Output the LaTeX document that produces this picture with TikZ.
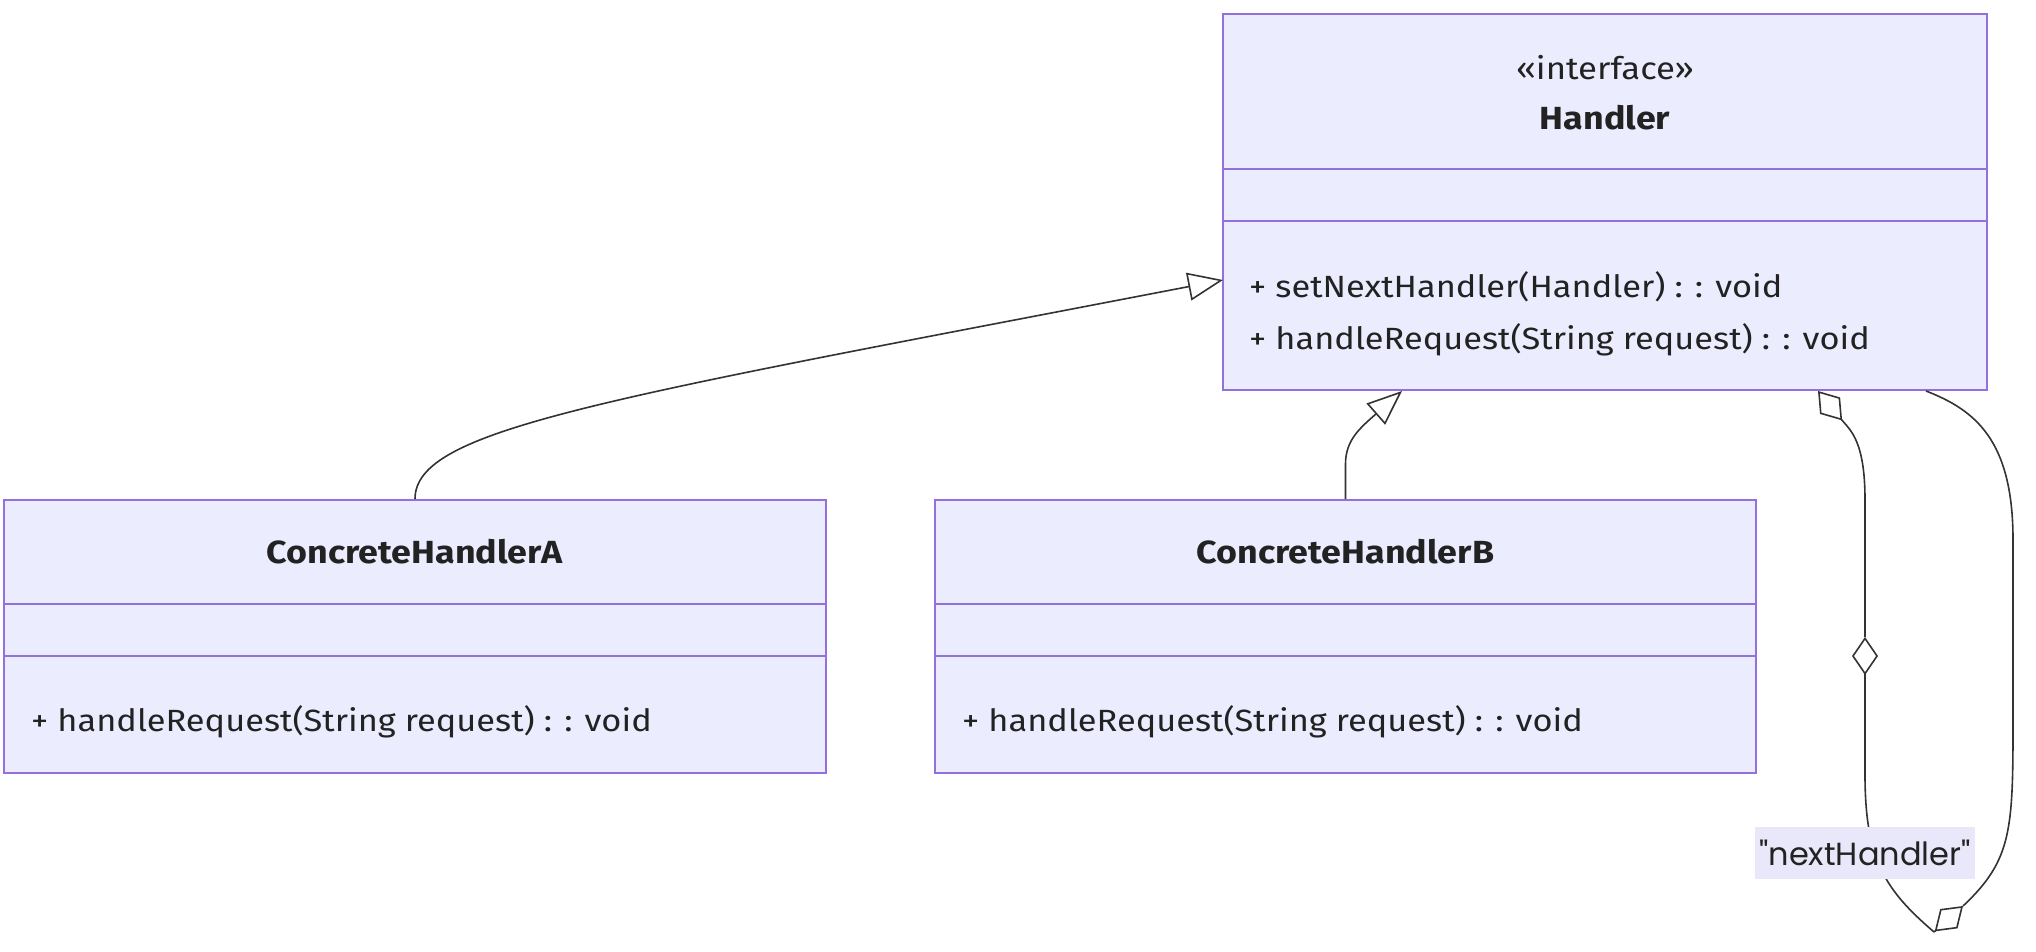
\documentclass[tikz,border=0pt]{standalone}
\usepackage{fontspec}
\setmainfont[FakeStretch=1.12]{Fira Sans}
\newfontfamily\labelfont{Poppins}
\usetikzlibrary{arrows.meta,calc}
\definecolor{classfill}{HTML}{ECECFF}
\definecolor{classline}{HTML}{9370DB}
\definecolor{edgeline}{HTML}{333333}
\definecolor{txt}{HTML}{222222}
\definecolor{labelbg}{HTML}{E8E8FA}
\begin{document}
\begin{tikzpicture}[x=1pt,y=-1pt,
  classbox/.style={draw=classline, fill=classfill, line width=2pt, inner sep=0pt},
  divider/.style={draw=classline, line width=2pt},
  titletext/.style={font=\fontsize{32}{38}\selectfont\bfseries, text=txt, inner sep=0pt},
  stereotext/.style={font=\fontsize{31}{36}\selectfont, text=txt, inner sep=0pt},
  membertext/.style={font=\fontsize{30.7}{36}\selectfont, text=txt, anchor=west, inner sep=0pt},
  edge/.style={draw=edgeline, line width=1.6pt},
  inherit/.style={edge, -{Triangle[open, length=35pt, width=28pt, fill=white]}},
  dmd/.tip={Diamond[open, length=38pt, width=26pt, fill=white]},
  rolelabel/.style={fill=labelbg, text=txt, font=\labelfont\fontsize{32}{36}\selectfont, inner xsep=4pt, minimum height=52pt}
]
\useasboundingbox (0,0) rectangle (2036,952);

% Handler interface
\node[classbox, minimum width=764pt, minimum height=376pt] (handler) at (1605,202) {};
\draw[divider] (1223,169) -- (1987,169);
\draw[divider] (1223,221) -- (1987,221);
\node[stereotext] (handlerStereo) at (1605,68) {«interface»};
\node[titletext] (handlerName) at (1605,118) {Handler};
\node[membertext] (handlerM1) at (1249,287) {+ setNextHandler(Handler) : : void};
\node[membertext] (handlerM2) at (1249,340) {+ handleRequest(String request) : : void};

% ConcreteHandlerA
\node[classbox, minimum width=822pt, minimum height=273pt] (chA) at (415,636.5) {};
\draw[divider] (4,604) -- (826,604);
\draw[divider] (4,656) -- (826,656);
\node[titletext] (chAName) at (415,552) {ConcreteHandlerA};
\node[membertext] (chAM1) at (31,722) {+ handleRequest(String request) : : void};

% ConcreteHandlerB
\node[classbox, minimum width=821pt, minimum height=273pt] (chB) at (1345.5,636.5) {};
\draw[divider] (935,604) -- (1756,604);
\draw[divider] (935,656) -- (1756,656);
\node[titletext] (chBName) at (1345.5,552) {ConcreteHandlerB};
\node[membertext] (chBM1) at (962,722) {+ handleRequest(String request) : : void};

% realisation edges
\coordinate (tipA) at (1223,280);
\coordinate (tipB) at (1402,391);
\draw[inherit] (chA.north) .. controls ($(chA.north)+(0,-70)$) and (600,400) .. (tipA);
\draw[inherit] (chB.north) -- ++(0,-35) .. controls (1345.5,440) and (1360,428) .. (tipB);

% self association nextHandler
\coordinate (loopOut) at ($(handler.south)+(213,0)$);
\coordinate (loopIn) at ($(handler.south)+(321,0)$);
\coordinate (midTop) at (1865,637);
\coordinate (lowL) at (1934,932);
\coordinate (lowR) at (1963,906);
\draw[edge, dmd-] (loopOut) .. controls (1850,430) and (1865,440) .. (1865,500) -- (midTop);
\draw[edge, dmd-] (midTop) -- (1865,780) .. controls (1866,860) and (1885,890) .. (lowL);
\draw[edge, -dmd] (lowL) -- (lowR);
\draw[edge] (lowR) .. controls (2012,860) and (2013,830) .. (2013,720) -- (2013,540)
  .. controls (2013,440) and (1975,410) .. (loopIn);
\node[rolelabel] (roleName) at (1865,853) {"nextHandler"};
\end{tikzpicture}
\end{document}
